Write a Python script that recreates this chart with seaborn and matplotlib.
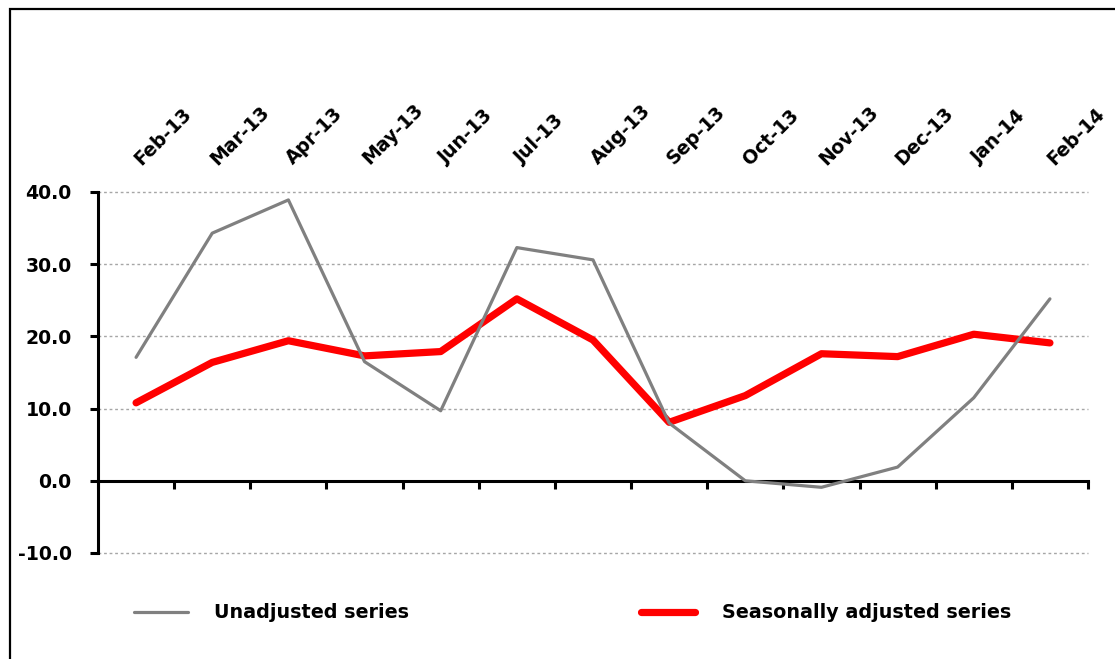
import matplotlib
matplotlib.use("Agg")
import matplotlib.pyplot as plt
from matplotlib.patches import Rectangle
from matplotlib.ticker import FixedLocator
from matplotlib.transforms import blended_transform_factory, ScaledTranslation
import seaborn as sns
import pandas as pd

# Monthly series
months = ["Feb-13", "Mar-13", "Apr-13", "May-13", "Jun-13", "Jul-13", "Aug-13",
          "Sep-13", "Oct-13", "Nov-13", "Dec-13", "Jan-14", "Feb-14"]
unadjusted = [17.1, 34.3, 38.9, 16.5, 9.7, 32.3, 30.6, 8.0, 0.0, -0.9, 1.9, 11.5, 25.2]
seasonal = [10.8, 16.4, 19.4, 17.3, 17.9, 25.2, 19.5, 8.1, 11.8, 17.6, 17.2, 20.3, 19.1]
y_ticks = [-10, 0, 10, 20, 30, 40]

sns.set_theme(style="white")
plt.rcParams["font.family"] = ["DejaVu Sans"]
plt.rcParams["font.weight"] = "bold"
plt.rcParams["text.color"] = "black"

df = pd.DataFrame({"pos": range(len(months)), "month": months,
                   "Unadjusted series": unadjusted,
                   "Seasonally adjusted series": seasonal})

fig = plt.figure(figsize=(11.15, 6.59), dpi=100)
ax = fig.add_axes([98 / 1115, 1 - 553 / 659, 990 / 1115, 361 / 659])

sns.lineplot(data=df, x="pos", y="Seasonally adjusted series", ax=ax,
             color="#ff0000", linewidth=5.2, zorder=3,
             label="Seasonally adjusted series", legend=False)
sns.lineplot(data=df, x="pos", y="Unadjusted series", ax=ax,
             color="#808080", linewidth=2.3, zorder=4,
             label="Unadjusted series", legend=False)

ax.set_xlim(-0.5, len(months) - 0.5)
ax.set_ylim(-10, 40)
ax.set_xlabel("")
ax.set_ylabel("")

# Gridlines
ax.set_yticks(y_ticks)
ax.set_yticklabels([f"{v:.1f}" for v in y_ticks], fontsize=13.6, fontweight="bold",
                   color="black")
for v in y_ticks:
    if v != 0:
        ax.axhline(v, color="#a6a6a6", linewidth=1.0, linestyle=(0, (2, 2)),
                   zorder=1, clip_on=False)

# Spines
for s in ["top", "right"]:
    ax.spines[s].set_visible(False)
ax.spines["left"].set_color("black")
ax.spines["left"].set_linewidth(2.2)
ax.spines["bottom"].set_color("black")
ax.spines["bottom"].set_linewidth(2.2)
ax.spines["bottom"].set_position(("data", 0))
ax.spines["bottom"].set_zorder(2)

ax.tick_params(axis="y", which="major", left=True, length=6, width=2.2,
               direction="out", color="black", pad=13)

# Tick marks between categories on the zero line
ax.set_xticks(range(len(months)))
ax.xaxis.set_minor_locator(FixedLocator([i + 0.5 for i in range(-1, len(months))]))
ax.tick_params(axis="x", which="major", bottom=False, top=False,
               labelbottom=False, labeltop=False)
ax.tick_params(axis="x", which="minor", bottom=True, top=False, length=6,
               width=2.2, direction="out", color="black")

# Month labels along the top, rotated
top_tr = blended_transform_factory(ax.transData, ax.transAxes) + \
    ScaledTranslation(5.5 / 72, 17 / 72, fig.dpi_scale_trans)
for i, m in enumerate(months):
    ax.text(i, 1.0, m, transform=top_tr, rotation=45, rotation_mode="anchor",
            ha="left", va="bottom", fontsize=13.6, fontweight="bold",
            color="black", clip_on=False)

# Legend
h, l = ax.get_legend_handles_labels()
order = [l.index("Unadjusted series"), l.index("Seasonally adjusted series")]
leg = fig.legend([h[i] for i in order], [l[i] for i in order], ncol=2,
                 loc="center left", bbox_to_anchor=(134 / 1115, 1 - 613 / 659),
                 frameon=False, borderpad=0, borderaxespad=0,
                 handlelength=2.8, handletextpad=1.4, columnspacing=12.1,
                 prop={"size": 13.8, "weight": "bold"})
for t in leg.get_texts():
    t.set_color("black")

# Outer frame
fig.add_artist(Rectangle((9.5 / 1115, -0.2), 1.5, 1.2 - 9 / 659,
                         transform=fig.transFigure, fill=False,
                         edgecolor="black", linewidth=1.6))

fig.savefig("out.png", dpi=100)
